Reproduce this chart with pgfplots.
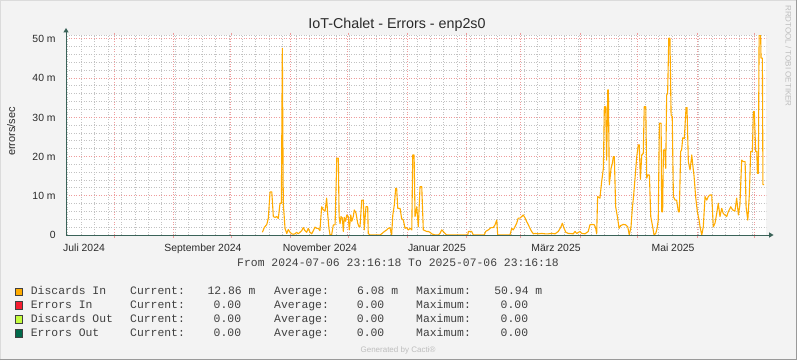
\documentclass[border=0pt]{standalone}
\usepackage{pgfplots}
\pgfplotsset{compat=1.18}
\usepackage{fontspec}
\setmainfont{Liberation Sans}
\newfontfamily\monofont{Liberation Mono}
\definecolor{bgc}{HTML}{F3F3F3}
\definecolor{mgrid}{HTML}{EE9C9C}
\definecolor{ngrid}{HTML}{C2C2C2}
\definecolor{axc}{HTML}{3A6258}
\definecolor{txt}{HTML}{2A2A2A}
\definecolor{lego}{HTML}{404040}
\definecolor{discin}{HTML}{FFAB00}
\definecolor{errin}{HTML}{F51D30}
\definecolor{discout}{HTML}{C4FD3D}
\definecolor{errout}{HTML}{00694A}
\definecolor{faint}{HTML}{BEBEBE}
\newcommand\ticklabelfont{\fontsize{10.4bp}{12bp}\selectfont}
\newcommand\legfont{\monofont\fontsize{11.4bp}{13bp}\selectfont}
\begin{document}
\begin{tikzpicture}[x=1bp,y=1bp]
\useasboundingbox (0,0) rectangle (797,360);
\fill[bgc] (0,0) rectangle (797,360);
\draw[color=black!14, line width=1bp] (0.5,0) -- (0.5,359.5) -- (797,359.5);
\draw[color=black!40, line width=1bp] (0,0.5) -- (796.5,0.5) -- (796.5,360);
\begin{axis}[
  at={(66bp,125bp)}, anchor=south west,
  width=700bp, height=200bp, scale only axis,
  xmin=0, xmax=365, ymin=0, ymax=51,
  axis line style={draw=none},
  axis background/.style={fill=white},
  xtick={25.03,56.03,86.03,117.03,147.03,178.03,209.03,237.03,268.03,298.03,329.03,359.03},
  xticklabels={},
  minor xtick={1.03,8.03,15.03,22.03,29.03,36.03,43.03,50.03,57.03,64.03,71.03,78.03,85.03,92.03,99.03,106.03,113.03,120.03,127.03,134.03,141.03,148.03,155.03,162.03,169.03,176.03,183.03,190.03,197.03,204.03,211.03,218.03,225.03,232.03,239.03,246.03,253.03,260.03,267.03,274.03,281.03,288.03,295.03,302.03,309.03,316.03,323.03,330.03,337.03,344.03,351.03,358.03},
  ytick={0,10,20,30,40,50},
  yticklabels={0,10 m,20 m,30 m,40 m,50 m},
  minor ytick={2,4,6,8,12,14,16,18,22,24,26,28,32,34,36,38,42,44,46,48,50.9},
  grid=both,
  major grid style={color=mgrid, line width=1bp, dash pattern=on 1bp off 1.5bp},
  minor grid style={color=ngrid, line width=1bp, dash pattern=on 1bp off 1.5bp},
  tick style={draw=none},
  major x tick style={draw=mgrid, line width=0.9bp},
  tick align=outside, major tick length=2.5bp,
  extra x ticks={9.4,71.4,132.4,193.4,255.5,316.5},
  extra x tick labels={Juli 2024,September 2024,November 2024,Januar 2025,März 2025,Mai 2025},
  extra x tick style={grid=none, major x tick style={draw=none}, xticklabel style={anchor=base, inner sep=0pt, yshift=-13.5bp}},
  xticklabel style={font=\ticklabelfont, text=txt},
  yticklabel style={anchor=base east, inner sep=0pt, xshift=-7.7bp, yshift=-3.8bp, font=\ticklabelfont, text=txt},
]
\addplot[color=discin, line width=1.1bp, line join=round] table {
x y
102.4 0.7
103.4 1.9
104.7 2.7
105.5 4.3
106.4 11.0
107.3 11.0
107.6 8.7
108.1 4.7
109.0 4.5
109.9 4.7
110.7 4.2
111.6 8.1
112.3 8.1
112.8 47.6
113.3 8.1
114.2 1.7
115.1 0.4
115.9 1.4
116.8 0.7
117.7 0.3
118.5 0.2
119.4 0.3
120.3 0.7
121.1 0.3
122.0 0.7
122.9 1.1
123.7 1.9
124.6 1.1
125.5 0.7
126.3 1.7
127.2 0.7
128.1 0.3
129.0 1.1
129.8 2.0
130.7 1.7
131.6 1.7
132.4 1.1
133.3 7.2
134.2 6.4
135.1 6.1
135.9 9.4
136.5 5.1
137.1 1.7
137.7 0
138.5 0
139.4 2.6
140.3 2.6
141.2 19.6
142.0 19.6
142.4 4.7
142.9 2.9
143.4 4.7
144.1 4.3
144.6 0.9
145.1 4.5
145.8 3.5
146.4 5.1
147.2 4.7
147.7 1.3
148.5 5.1
149.0 3.5
149.8 4.7
150.3 6.4
151.2 5.6
152.1 3.0
152.8 2.1
153.3 2.1
154.2 8.9
155.0 8.9
155.5 1.3
156.4 7.2
157.3 7.2
157.6 0.4
158.5 0
163.7 0
164.6 0.3
165.5 0.7
167.2 1.3
168.1 1.7
168.9 1.9
169.8 0
170.4 5.1
171.2 7.7
171.9 11.9
172.4 11.9
173.0 6.8
174.2 6.8
175.0 4.2
175.9 3.8
176.8 1.7
177.6 1.9
178.5 1.3
179.4 1.7
180.3 1.3
180.8 20.4
181.5 20.4
182.0 4.7
182.9 7.2
183.7 2.1
184.6 12.3
185.5 12.3
186.3 1.3
187.2 1.1
188.1 0.9
188.9 0.9
189.8 0.7
190.7 0.3
192.4 0
194.1 0
195.0 0.4
195.9 1.3
196.7 0.9
197.6 0.4
198.5 0
209.5 0
209.8 0.9
211.5 0.9
212.4 0
218.1 0
218.8 0.9
220.2 1.3
221.6 1.9
222.8 1.9
223.7 2.6
224.6 3.8
225.1 0
231.5 0
232.4 1.7
233.2 1.3
234.1 2.1
235.0 3.0
235.8 4.3
236.7 4.3
237.6 4.7
238.4 5.1
239.3 4.4
240.2 3.4
241.1 2.6
241.9 1.7
242.8 0.9
243.7 0.3
244.6 0.4
246.3 0.3
248.0 0.4
249.8 0.3
251.5 0.3
253.3 0.4
255.0 0.3
256.7 0.9
258.1 2.1
258.8 3.0
259.7 1.7
260.6 0.7
261.9 0.4
264.5 0.3
265.4 0.9
266.3 0.4
268.0 0.9
268.9 0.4
270.6 0.3
272.3 0.9
273.2 2.6
274.1 2.7
275.5 2.6
276.2 1.7
276.7 0.3
277.2 9.8
278.4 9.4
279.3 13.6
280.2 17.0
280.7 32.7
281.4 32.7
281.9 19.1
282.5 37.0
282.8 37.0
283.3 12.8
284.2 17.0
284.9 18.3
285.4 20.0
285.9 20.0
286.6 7.2
287.5 4.7
288.4 1.7
289.2 2.4
290.6 2.7
291.8 2.6
292.9 2.1
293.7 0
294.6 2.1
295.3 6.8
296.0 10.2
296.7 14.5
297.6 20.0
298.4 23.0
298.9 23.0
299.5 14.2
300.2 20.4
301.0 20.8
301.5 32.7
302.3 32.7
302.8 14.5
303.3 15.3
304.2 15.3
304.9 4.7
305.9 2.1
306.6 0
307.5 0.4
308.2 1.7
308.8 3.8
309.4 28.5
310.3 28.5
310.6 5.9
311.1 5.9
311.5 21.7
312.2 21.7
312.7 17.0
313.2 35.7
313.7 36.1
314.3 50.2
314.9 50.2
315.5 30.6
316.1 30.2
316.7 9.8
317.6 8.9
318.4 8.9
319.3 5.9
319.8 5.9
320.5 21.3
321.0 21.7
321.6 24.8
322.4 24.6
323.3 32.5
323.8 32.5
324.5 18.7
325.4 16.6
326.3 20.4
326.8 17.9
327.5 14.9
328.3 9.8
329.2 5.9
330.1 3.8
330.6 2.1
331.5 0
332.3 2.1
333.2 9.8
334.1 8.9
334.9 9.8
335.8 10.2
336.7 10.2
337.5 2.1
338.4 3.0
339.3 5.5
340.1 8.1
341.0 4.7
341.9 6.8
342.7 5.5
343.6 5.1
344.5 4.7
345.3 5.9
346.6 7.2
347.6 6.4
348.8 6.1
349.7 9.4
350.6 5.1
351.4 7.7
352.3 19.1
353.2 18.7
354.1 18.7
354.6 7.2
355.5 3.8
356.3 10.2
357.0 21.3
357.9 21.3
358.4 31.5
358.9 31.5
359.6 21.3
360.2 21.3
360.5 15.7
361.0 15.7
361.4 51.0
362.2 50.9
362.4 45.1
363.1 45.1
363.4 12.86
364.0 12.86
};
\end{axis}
% axes with arrows
\draw[axc, line width=1bp] (66,125) -- (66,328);
\fill[axc] (63.3,327.5) -- (68.7,327.5) -- (66,332) -- cycle;
\draw[axc, line width=1bp] (66,125) -- (769.5,125);
\fill[axc] (769,127.7) -- (769,122.3) -- (773.5,125) -- cycle;
% title and labels
\node[anchor=base, inner sep=0pt, text=txt, font=\fontsize{14.3bp}{16bp}\selectfont] at (397,331.7) {IoT-Chalet - Errors - enp2s0};
\node[anchor=base, rotate=90, inner sep=0pt, text=txt, font=\fontsize{11bp}{13bp}\selectfont] at (15,228.5) {errors/sec};
\node[anchor=center, rotate=-90, inner sep=0pt, text=faint, font=\fontsize{8bp}{9bp}\selectfont] at (788.5,304) {RRDTOOL / TOBI OETIKER};
\node[anchor=base, inner sep=0pt, text=lego, font=\legfont] at (398,94) {From 2024-07-06 23:16:18 To 2025-07-06 23:16:18};
% legend
\foreach \c/\yb/\yc/\name in {discin/65.7/68.3/Discards In, errin/51.7/54.5/Errors In, discout/38/40.8/Discards Out, errout/24/26.8/Errors Out}{
  \filldraw[fill=\c, draw=black!75, line width=0.7bp] (15.3,\yc-3.8) rectangle (22.5,\yc+3.8);
  \node[anchor=base west, inner sep=0pt, text=lego, font=\legfont] at (30.7,\yb) {\name};
  \node[anchor=base west, inner sep=0pt, text=lego, font=\legfont] at (130,\yb) {Current:};
  \node[anchor=base west, inner sep=0pt, text=lego, font=\legfont] at (274,\yb) {Average:};
  \node[anchor=base west, inner sep=0pt, text=lego, font=\legfont] at (416,\yb) {Maximum:};
}
\node[anchor=base west, inner sep=0pt, text=lego, font=\legfont] at (207.3,65.7) {12.86 m};
\node[anchor=base west, inner sep=0pt, text=lego, font=\legfont] at (357,65.7) {6.08 m};
\node[anchor=base west, inner sep=0pt, text=lego, font=\legfont] at (494.2,65.7) {50.94 m};
\foreach \yb in {51.7,38,24}{
  \node[anchor=base east, inner sep=0pt, text=lego, font=\legfont] at (241.3,\yb) {0.00};
  \node[anchor=base east, inner sep=0pt, text=lego, font=\legfont] at (384.5,\yb) {0.00};
  \node[anchor=base east, inner sep=0pt, text=lego, font=\legfont] at (528.3,\yb) {0.00};
}
\node[anchor=base, inner sep=0pt, text=faint, font=\fontsize{8bp}{9bp}\selectfont] at (398,7.5) {Generated by Cacti®};
\end{tikzpicture}
\end{document}
